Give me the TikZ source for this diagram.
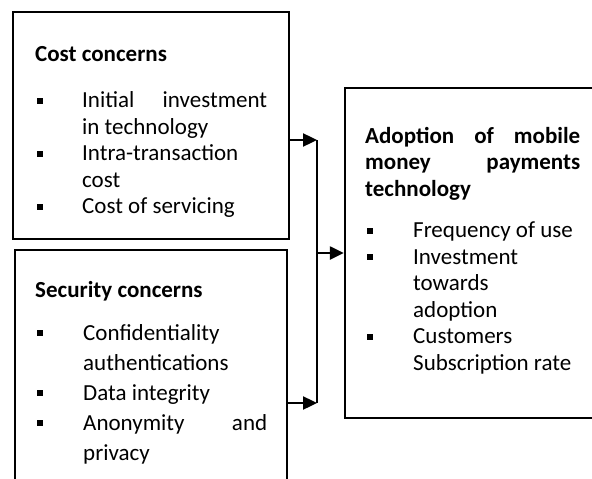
\documentclass[tikz,border=0pt]{standalone}
\usepackage{fontspec}
\setmainfont{Carlito}
\usetikzlibrary{arrows.meta}
\newcommand{\sqbul}{\rule[4pt]{6pt}{6pt}}
\newcommand{\bitem}[2][47pt]{\par\hangindent=#1\hangafter=1\noindent\makebox[#1][l]{\hspace{2pt}\sqbul}#2}
\tikzset{
	box/.style={draw,line width=2.4pt,inner sep=0pt},
	boxtext/.style={anchor=north west,inner sep=0pt,align=justify},
	link/.style={line width=2.4pt},
	arrowlink/.style={link,-{Triangle[length=14pt,width=13pt]}}
}
\begin{document}
\begin{tikzpicture}[x=1pt,y=-1pt]
				\useasboundingbox (0,0) rectangle (592,479);
				\clip (0,0) rectangle (592,479);
				% the three boxes
				\node[box,minimum width=276pt,minimum height=227pt] (cost) at (151,125.5) {};
				\node[box,minimum width=272pt,minimum height=260pt] (sec) at (151,380) {};
				\node[box,minimum width=255pt,minimum height=330pt] (adopt) at (472.5,253) {};
				% texts
				\node[boxtext,text width=232pt] (costtxt) at (35,42.5) {\fontsize{23}{26.5}\selectfont
					\strut\textbf{Cost concerns}\par\vspace{20pt}
					\bitem{Initial\hfill investment\\in technology}
					\bitem{Intra-transaction\\cost}
					\bitem{Cost of servicing}\par};
				\node[boxtext,text width=232pt] (sectxt) at (35,276) {\fontsize{23}{30}\selectfont
					\strut\textbf{Security concerns}\par\vspace{13pt}
					\bitem[48pt]{Confidentiality\\authentications}
					\bitem[48pt]{Data integrity}
					\bitem[48pt]{Anonymity\hfill and\\privacy}\par};
				\node[boxtext,text width=215pt] (adopttxt) at (365,124.5) {\fontsize{23}{26.5}\selectfont
					\strut\textbf{Adoption\hfill of\hfill mobile\\money\hfill payments\\technology}\par\vspace{15pt}
					\bitem[48pt]{Frequency of use}
					\bitem[48pt]{Investment\\towards\\adoption}
					\bitem[48pt]{Customers\\Subscription rate}\par};
				% connectors
				\coordinate (jtop) at (317,140);
				\coordinate (jmid) at (317,253);
				\coordinate (jbot) at (317,403);
				\draw[link] (jtop) -- (jbot);
				\draw[arrowlink] (cost.east |- jtop) -- (jtop);
				\draw[arrowlink] (sec.east |- jbot) -- (jbot);
				\draw[arrowlink] (jmid) -- (adopt.west |- jmid);
			\end{tikzpicture}
\end{document}
